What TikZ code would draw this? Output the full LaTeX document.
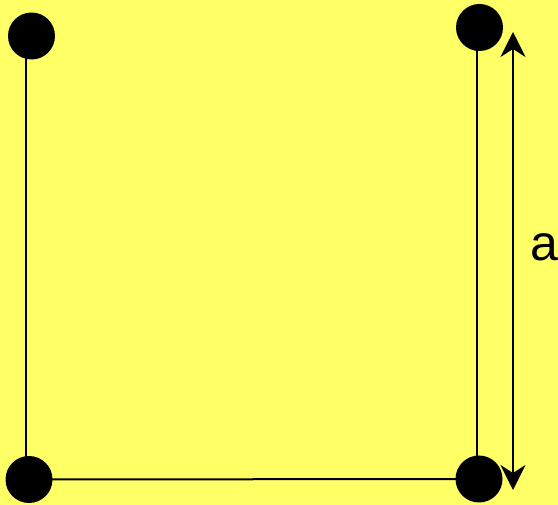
\documentclass[tikz,border=0pt]{standalone}
\usepackage{fontspec}
\setmainfont{Liberation Sans}
\definecolor{bgyellow}{HTML}{FFFF66}
\usetikzlibrary{arrows.meta, backgrounds}
\tikzset{
	dotnode/.style={
			circle,
			fill=black,
			draw=none,
			minimum size=47pt,
			inner sep=0pt
		},
	sideline/.style={
			line width=2pt,
			black
		},
	dimarrow/.style={
			line width=2pt,
			{Stealth[length=25pt,width=25pt,inset=8pt]}-{Stealth[length=25pt,width=25pt,inset=8pt]}
		},
	labelnode/.style={
			inner sep=0pt,
			font=\fontsize{50}{60}\selectfont
		}
}

\begin{document}
\begin{tikzpicture}[x=1pt, y=-1pt]
\useasboundingbox (0,0) rectangle (558,505);

% the four corners
\node[dotnode] (tl) at (31.5,36)  {};
\node[dotnode] (tr) at (479.5,27.5)  {};
\node[dotnode] (bl) at (29,479.5)  {};
\node[dotnode] (br) at (479,479)  {};

\coordinate (atop) at (513,32);
\coordinate (abot) at (513,490);

\begin{scope}[on background layer]
\fill[bgyellow] (0,0) rectangle (558,505);
\draw[sideline] ([xshift=-5.5pt]tl.center) -- ([xshift=-3pt]bl.center);
\draw[sideline] ([xshift=-2.5pt]tr.center) -- ([xshift=-2pt]br.center);
\draw[sideline] (bl.center) -- (br.center);
\end{scope}

\draw[dimarrow] (abot) -- (atop);
\node[labelnode] (lbla) at (544,247) {a};
\end{tikzpicture}
\end{document}
